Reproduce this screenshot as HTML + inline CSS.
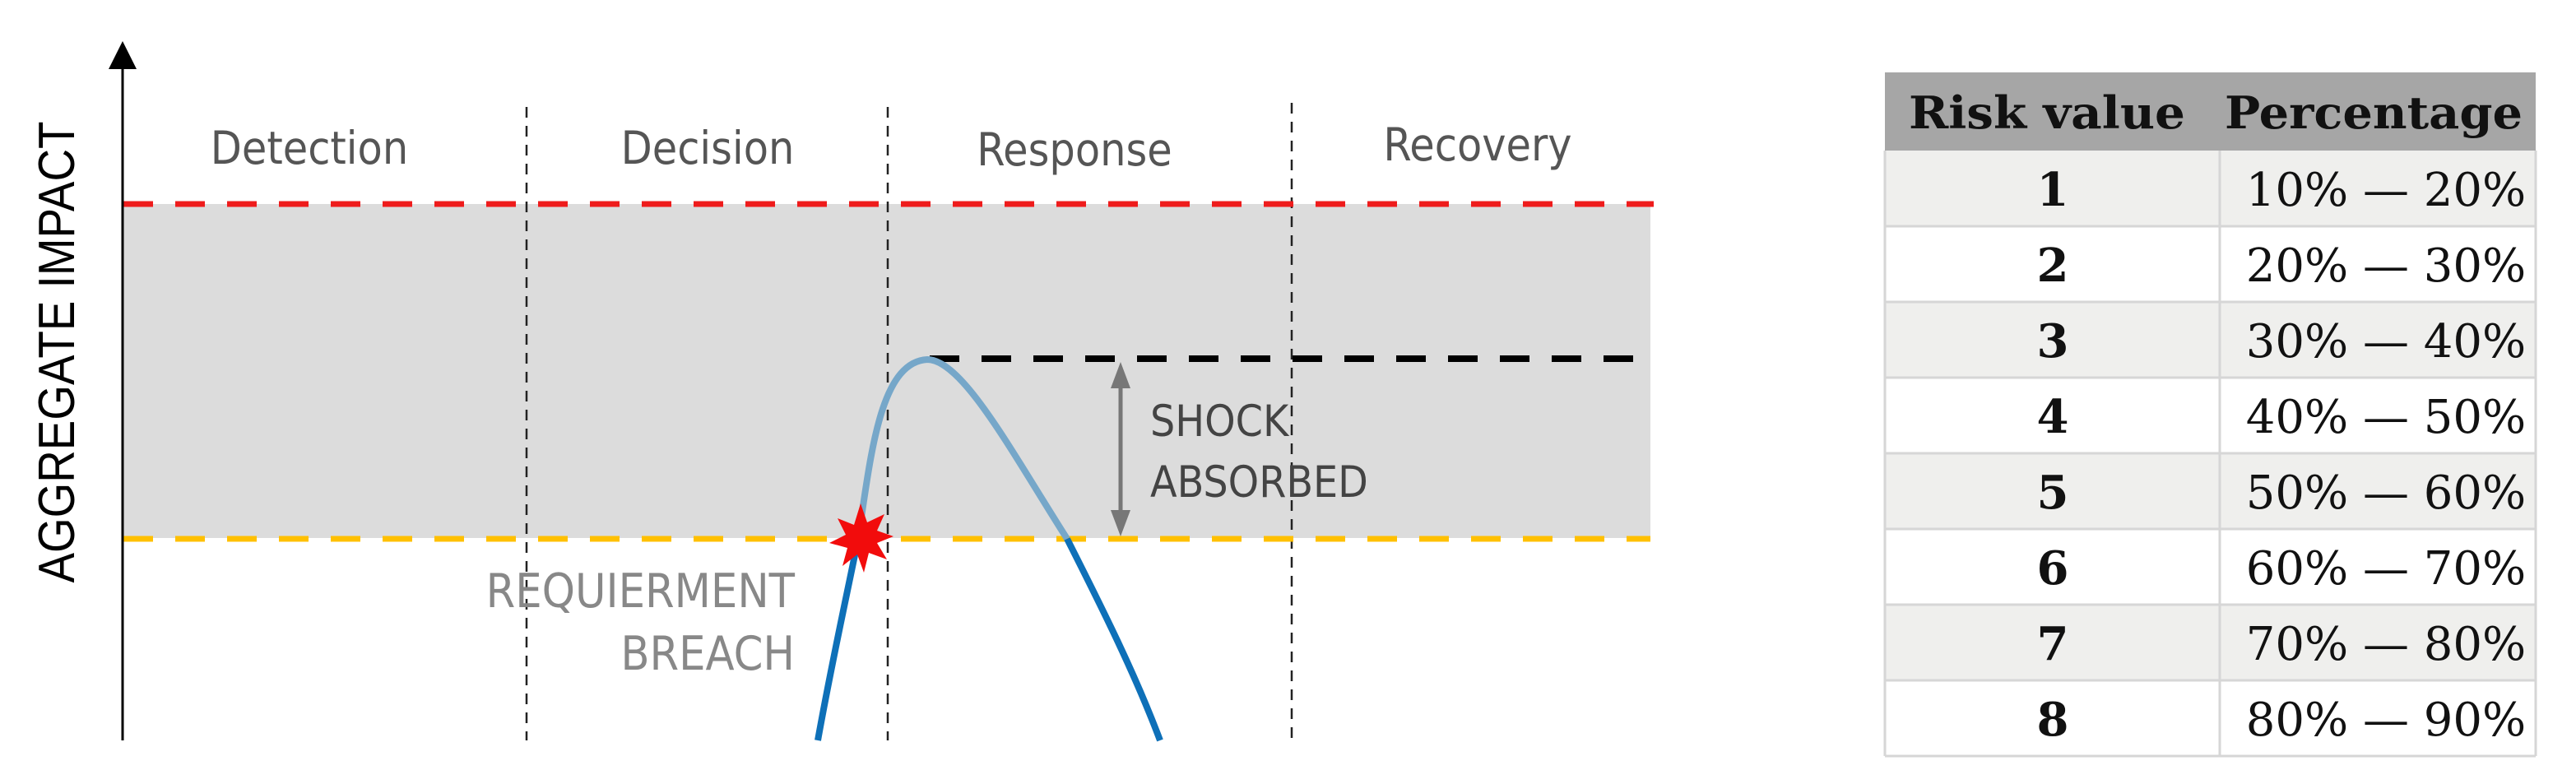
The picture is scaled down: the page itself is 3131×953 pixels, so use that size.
<!DOCTYPE html>
<html><head><meta charset="utf-8"><style>
html,body{margin:0;padding:0;background:#fff;width:3131px;height:953px;overflow:hidden}
</style></head><body>
<svg width="3131" height="953" viewBox="0 0 3131 953" xmlns="http://www.w3.org/2000/svg">
<rect x="150" y="248" width="1856" height="406" fill="#dcdcdc"/>
<g stroke="#222" stroke-width="2.5" stroke-dasharray="13,10">
<line x1="640" y1="130" x2="640" y2="900"/>
<line x1="1079" y1="130" x2="1079" y2="900"/>
<line x1="1570" y1="125" x2="1570" y2="900"/>
</g>
<line x1="150" y1="248" x2="2010" y2="248" stroke="#ee1c1c" stroke-width="7" stroke-dasharray="36,27"/>
<line x1="150" y1="655" x2="2006" y2="655" stroke="#ffc000" stroke-width="7" stroke-dasharray="36,27"/>
<line x1="1130" y1="436" x2="1985" y2="436" stroke="#000" stroke-width="8" stroke-dasharray="36,27"/>
<line x1="149" y1="900" x2="149" y2="75" stroke="#000" stroke-width="3"/>
<polygon points="149,50 132,84 166,84" fill="#000"/>
<line x1="1362" y1="470" x2="1362" y2="622" stroke="#777" stroke-width="5"/>
<polygon points="1362,440 1350,472 1374,472" fill="#777"/>
<polygon points="1362,652 1350,620 1374,620" fill="#777"/>
<path d="M1043,655 C1058,560 1068,440 1127,437 C1170,437 1230,550 1297,655" fill="none" stroke="#76a7c9" stroke-width="8"/>
<path d="M994,900 C1012,800 1030,720 1043,655" fill="none" stroke="#0e70b8" stroke-width="8"/>
<path d="M1297,655 C1340,740 1380,820 1410,900" fill="none" stroke="#0e70b8" stroke-width="8"/>
<polygon fill="#f20c0c" points="1046,612 1054,635 1075,625 1066,645 1086,652 1066,660 1078,680 1056,672 1050,696 1042,674 1024,688 1030,666 1008,660 1028,650 1018,630 1038,638"/>
<g font-family="'DejaVu Sans Condensed','DejaVu Sans',sans-serif" font-size="55" fill="#555" text-anchor="middle">
<text x="376" y="199">Detection</text>
<text x="860" y="199">Decision</text>
<text x="1306" y="201">Response</text>
<text x="1796" y="195">Recovery</text>
</g>
<g font-family="'DejaVu Sans Condensed','DejaVu Sans',sans-serif" font-size="53" fill="#444">
<text x="1398" y="530">SHOCK</text>
<text x="1398" y="604">ABSORBED</text>
</g>
<g font-family="'DejaVu Sans Condensed','DejaVu Sans',sans-serif" font-size="57" fill="#888" text-anchor="end">
<text x="966" y="738">REQUIERMENT</text>
<text x="966" y="814">BREACH</text>
</g>
<text transform="translate(90,428) rotate(-90)" font-family="'Liberation Sans',sans-serif" font-size="62" fill="#000" text-anchor="middle" textLength="561" lengthAdjust="spacingAndGlyphs">AGGREGATE IMPACT</text>

<rect x="2291" y="88" width="791" height="95" fill="#a6a6a6"/>
<g fill="#efefed">
<rect x="2291" y="183" width="791" height="92"/>
<rect x="2291" y="367" width="791" height="92"/>
<rect x="2291" y="551" width="791" height="92"/>
<rect x="2291" y="735" width="791" height="92"/>
</g>
<g stroke="#d6d6d6" stroke-width="3">
<line x1="2698" y1="183" x2="2698" y2="919"/>
<line x1="2291" y1="275" x2="3082" y2="275"/>
<line x1="2291" y1="367" x2="3082" y2="367"/>
<line x1="2291" y1="459" x2="3082" y2="459"/>
<line x1="2291" y1="551" x2="3082" y2="551"/>
<line x1="2291" y1="643" x2="3082" y2="643"/>
<line x1="2291" y1="735" x2="3082" y2="735"/>
<line x1="2291" y1="827" x2="3082" y2="827"/>
<line x1="2291" y1="919" x2="3082" y2="919"/>
<line x1="2291" y1="183" x2="2291" y2="919"/>
<line x1="3082" y1="183" x2="3082" y2="919"/>
</g>
<g font-family="'DejaVu Serif','Liberation Serif',serif" fill="#111" text-anchor="middle">
<text x="2488" y="156" font-size="54" font-weight="bold" textLength="336" lengthAdjust="spacingAndGlyphs">Risk value</text>
<text x="2885" y="156" font-size="54" font-weight="bold" textLength="362" lengthAdjust="spacingAndGlyphs">Percentage</text>
<g font-weight="bold" font-size="56">
<text x="2495" y="250">1</text><text x="2495" y="342">2</text><text x="2495" y="434">3</text><text x="2495" y="526">4</text>
<text x="2495" y="618">5</text><text x="2495" y="710">6</text><text x="2495" y="802">7</text><text x="2495" y="894">8</text>
</g>
<g font-size="56">
<text x="2900" y="250">10% — 20%</text><text x="2900" y="342">20% — 30%</text><text x="2900" y="434">30% — 40%</text><text x="2900" y="526">40% — 50%</text>
<text x="2900" y="618">50% — 60%</text><text x="2900" y="710">60% — 70%</text><text x="2900" y="802">70% — 80%</text><text x="2900" y="894">80% — 90%</text>
</g>
</g>
</svg>
</body></html>
